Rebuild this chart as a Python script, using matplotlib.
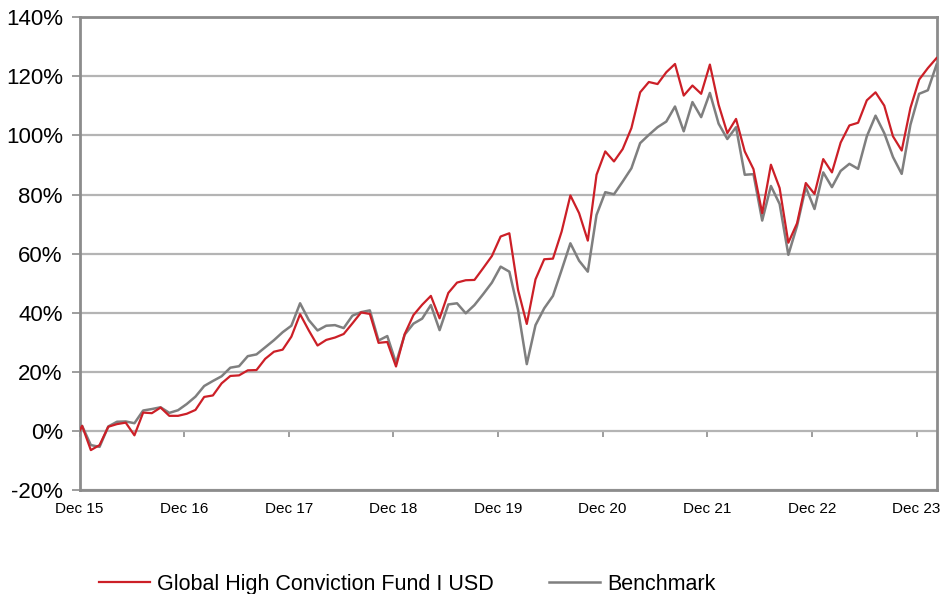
import numpy as np
import matplotlib
matplotlib.use("Agg")
import matplotlib.pyplot as plt
from matplotlib.ticker import FuncFormatter

plt.rcParams['font.family'] = ['Liberation Sans', 'DejaVu Sans']

# cumulative performance in %, monthly from Dec 15 (first value is the launch point at 0)
start_value = 0.0
fund = [1.7, -6.5, -4.8, 1.4, 2.3, 2.8, -1.5, 6.2, 6.0, 7.9, 5.1, 5.1, 5.8, 7.1,
        11.5, 12.0, 16.1, 18.6, 18.8, 20.5, 20.6, 24.4, 26.8, 27.5, 31.9, 39.5,
        34.0, 28.9, 30.8, 31.6, 32.8, 36.4, 40.1, 39.6, 29.8, 30.1, 21.8, 32.8,
        39.2, 42.7, 45.7, 38.1, 46.7, 50.2, 51.0, 51.1, 55.1, 59.2, 65.8, 66.9,
        47.7, 36.2, 51.3, 58.1, 58.3, 67.5, 79.7, 73.7, 64.4, 86.7, 94.6, 91.2,
        95.4, 102.5, 114.6, 118.1, 117.4, 121.4, 124.2, 113.5, 116.9, 114.1,
        124.0, 110.4, 100.8, 105.6, 94.6, 88.6, 73.7, 90.1, 82.2, 63.7, 70.3,
        83.9, 80.2, 92.0, 87.5, 97.6, 103.4, 104.3, 111.9, 114.6, 110.1, 99.7,
        94.9, 109.3, 118.9, 122.8, 126.2]
bench = [1.7, -4.8, -5.4, 1.5, 3.1, 3.2, 2.6, 6.9, 7.4, 8.0, 6.1, 7.0, 9.1, 11.6,
         15.2, 16.9, 18.5, 21.4, 21.9, 25.3, 25.9, 28.3, 30.7, 33.4, 35.6, 43.2,
         37.5, 34.0, 35.6, 35.8, 34.8, 39.0, 40.2, 40.8, 30.6, 32.1, 23.0, 32.6,
         36.3, 38.0, 42.6, 34.1, 42.8, 43.2, 39.8, 42.6, 46.3, 50.2, 55.6, 53.9,
         40.9, 22.6, 35.8, 41.5, 45.7, 54.5, 63.5, 57.6, 53.9, 73.1, 80.8, 80.1,
         84.4, 88.9, 97.4, 100.2, 102.8, 104.7, 109.8, 101.4, 111.3, 106.2,
         114.4, 104.0, 98.8, 102.8, 86.7, 86.9, 71.2, 82.9, 76.8, 59.6, 69.4,
         82.5, 75.1, 87.5, 82.5, 88.0, 90.4, 88.7, 99.7, 106.7, 100.8, 92.7,
         87.0, 103.6, 114.1, 115.3, 124.0]
year_labels = ["Dec 15", "Dec 16", "Dec 17", "Dec 18", "Dec 19",
               "Dec 20", "Dec 21", "Dec 22", "Dec 23"]
series_names = ["Global High Conviction Fund I USD", "Benchmark"]

# month positions: launch point, then month ends slightly after the axis origin
months = np.concatenate([[0.0], np.arange(len(fund)) + 0.3])
fund_y = np.concatenate([[start_value], fund])
bench_y = np.concatenate([[start_value], bench])

red = "#CC1F27"
grey = "#7F7F7F"
frame = "#8C8C8C"

fig = plt.figure(figsize=(9.42, 5.94), dpi=100)
ax = fig.add_axes([0.0844, 0.1751, 0.9103, 0.7958])

for yv in range(-20, 141, 20):
    ax.axhline(yv, color="#B4B4B4", lw=1.6, zorder=1)

ax.plot(months, bench_y, color=grey, lw=1.8, zorder=3, label=series_names[1])
ax.plot(months, fund_y, color=red, lw=1.6, zorder=4, label=series_names[0])

ax.set_xlim(0, 98.35)
ax.set_ylim(-20, 140)
ax.set_yticks(range(-20, 141, 20))
ax.yaxis.set_major_formatter(FuncFormatter(lambda v, p: f"{v:.0f}%"))
ax.set_xticks(np.arange(len(year_labels)) * 12)
ax.set_xticklabels(year_labels)

ax.tick_params(axis="y", labelsize=16, length=6, width=1.2, color=frame, pad=6)
ax.tick_params(axis="x", labelsize=11, length=0, pad=9)

for s in ax.spines.values():
    s.set_color(frame)
    s.set_linewidth(2)

# category axis crosses at 0% with small tick marks
sec = ax.secondary_xaxis(20 / 160)
sec.set_xticks(np.arange(len(year_labels)) * 12)
sec.set_xticklabels([])
sec.spines["bottom"].set_visible(False)
sec.tick_params(axis="x", direction="out", length=4, width=1.2, color=frame)

handles, labels = ax.get_legend_handles_labels()
fig.legend(handles[::-1], labels[::-1], loc="center left",
           bbox_to_anchor=(99 / 942, 0.016), ncol=2, frameon=False,
           fontsize=15.5, handlelength=2.35, handletextpad=0.33,
           columnspacing=2.6, borderpad=0, borderaxespad=0)

fig.savefig("out.png", dpi=100)
